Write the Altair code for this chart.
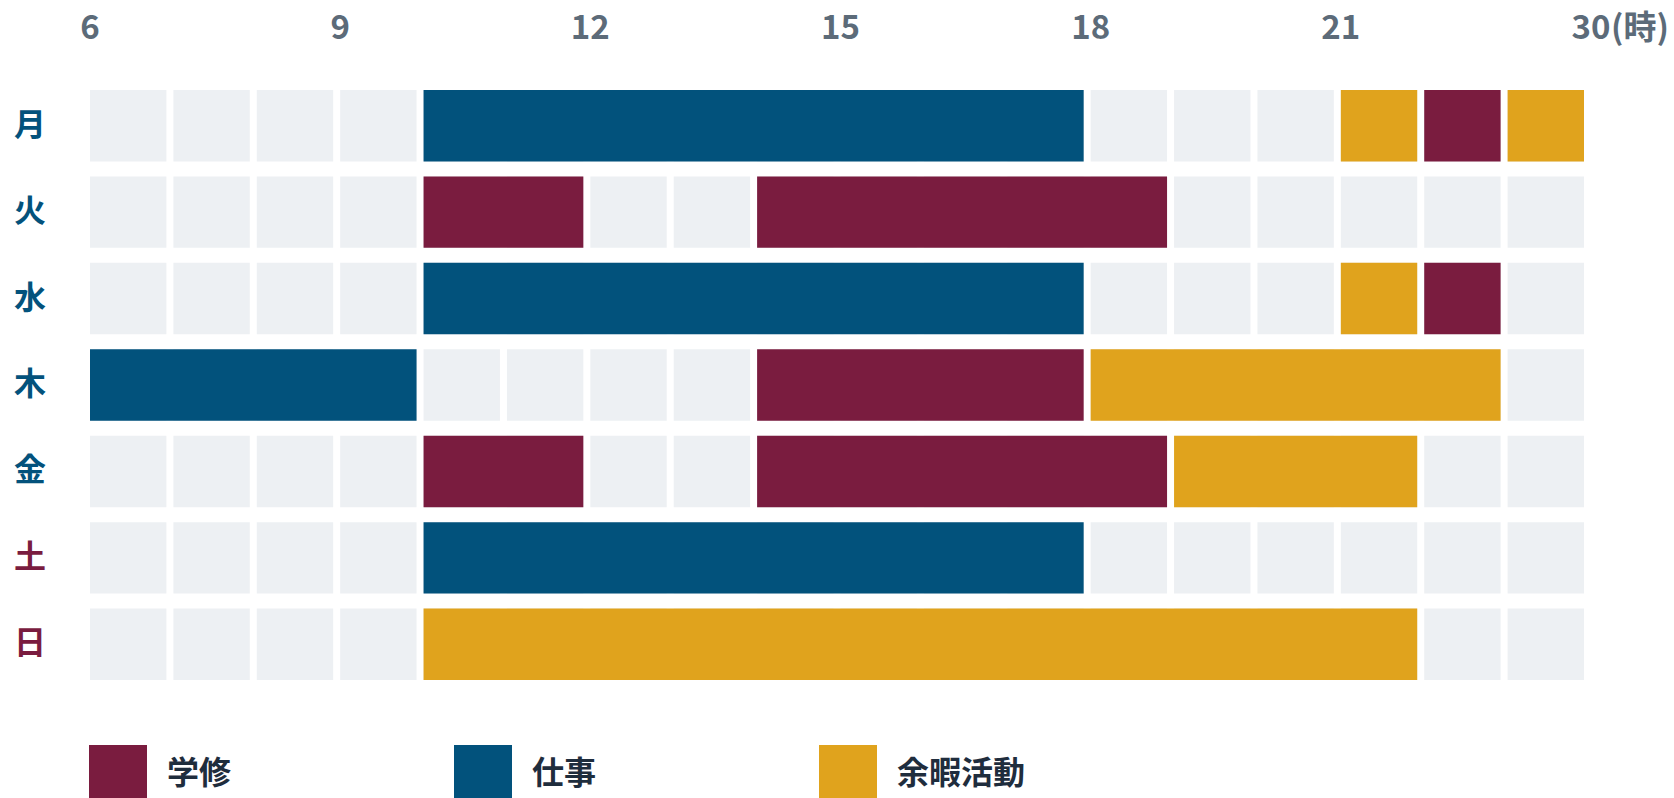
import altair as alt
import pandas as pd

# ---- data ----
days = ["月", "火", "水", "木", "金", "土", "日"]
day_colors = ["#03527c", "#03527c", "#03527c", "#03527c", "#03527c", "#7a1c3f", "#7a1c3f"]
hours = list(range(6, 24))

categories = ["学修", "仕事", "余暇活動"]
cat_colors = ["#7a1c3f", "#02527c", "#e0a31d"]

act_day = ["月", "月", "月", "月",
           "火", "火",
           "水", "水", "水",
           "木", "木", "木",
           "金", "金", "金",
           "土",
           "日"]
act_start = [10, 21, 22, 23,
             10, 14,
             10, 21, 22,
             6, 14, 18,
             10, 14, 19,
             10,
             10]
act_end = [18, 22, 23, 24,
           12, 19,
           18, 22, 23,
           10, 18, 23,
           12, 19, 22,
           18,
           22]
act_cat = ["仕事", "余暇活動", "学修", "余暇活動",
           "学修", "学修",
           "仕事", "余暇活動", "学修",
           "仕事", "学修", "余暇活動",
           "学修", "学修", "余暇活動",
           "仕事",
           "余暇活動"]

tick_hours = [6, 9, 12, 15, 18, 21, 24]
tick_text = ["6", "9", "12", "15", "18", "21", "30"]
unit_text = "(時)"

# ---- tables ----
cells = pd.DataFrame([{"day": d, "start": h, "end": h + 1} for d in days for h in hours])
acts = pd.DataFrame({"day": act_day, "start": act_start, "end": act_end, "cat": act_cat})
ticks = pd.DataFrame({"h": tick_hours, "t": tick_text})
unit = pd.DataFrame({"h": [tick_hours[-1]], "t": [unit_text]})
daylab = pd.DataFrame({"day": days, "c": day_colors})

FONT = "Noto Sans CJK JP"
GAP = 7

xscale = alt.Scale(domain=[6, 24], nice=False, zero=False)
yscale = alt.Scale(domain=days, paddingInner=15 / 86.5, paddingOuter=0)

X = lambda f: alt.X(f, type="quantitative", scale=xscale, axis=None)
Y = alt.Y("day:N", scale=yscale, axis=None, sort=days)

grey = alt.Chart(cells).mark_bar(color="#edf0f3", x2Offset=-GAP).encode(
    x=X("start"), x2="end", y=Y
)

bars = alt.Chart(acts).mark_bar(x2Offset=-GAP, opacity=1).encode(
    x=X("start"), x2="end", y=Y,
    color=alt.Color(
        "cat:N",
        scale=alt.Scale(domain=categories, range=cat_colors),
        legend=alt.Legend(
            title=None, orient="none", legendX=-1, legendY=655,
            direction="horizontal", columns=3, gridAlign="all",
            columnPadding=158, symbolType="square", symbolSize=58 * 58,
            symbolStrokeWidth=0, symbolOpacity=1, labelFont=FONT,
            labelFontSize=32, labelFontWeight="bold", labelColor="#1f2d3d",
            labelOffset=20, padding=0, labelLimit=400,
        ),
    ),
)

toplab = alt.Chart(ticks).mark_text(
    font=FONT, fontSize=33, fontWeight="bold", color="#5c6b79", align="center", baseline="middle"
).encode(x=X("h"), y=alt.value(-61), text="t:N")

unitlab = alt.Chart(unit).mark_text(
    font=FONT, fontSize=33, fontWeight="bold", color="#5c6b79", align="left", baseline="middle", dx=20
).encode(x=X("h"), y=alt.value(-61), text="t:N")

daytext = alt.Chart(daylab).mark_text(
    font=FONT, fontSize=32, fontWeight="bold", align="center", baseline="middle"
).encode(x=alt.value(-60), y=Y, text="day:N", color=alt.Color("c:N", scale=None))

chart = alt.layer(grey, bars, toplab, unitlab, daytext).properties(
    width=1501, height=590, autosize="none", background="white",
    padding={"left": 90, "top": 90, "right": 83, "bottom": 118},
).configure_view(strokeWidth=0, stroke="transparent")

chart.save("out.html", embed_options={"renderer": "svg", "actions": False})
